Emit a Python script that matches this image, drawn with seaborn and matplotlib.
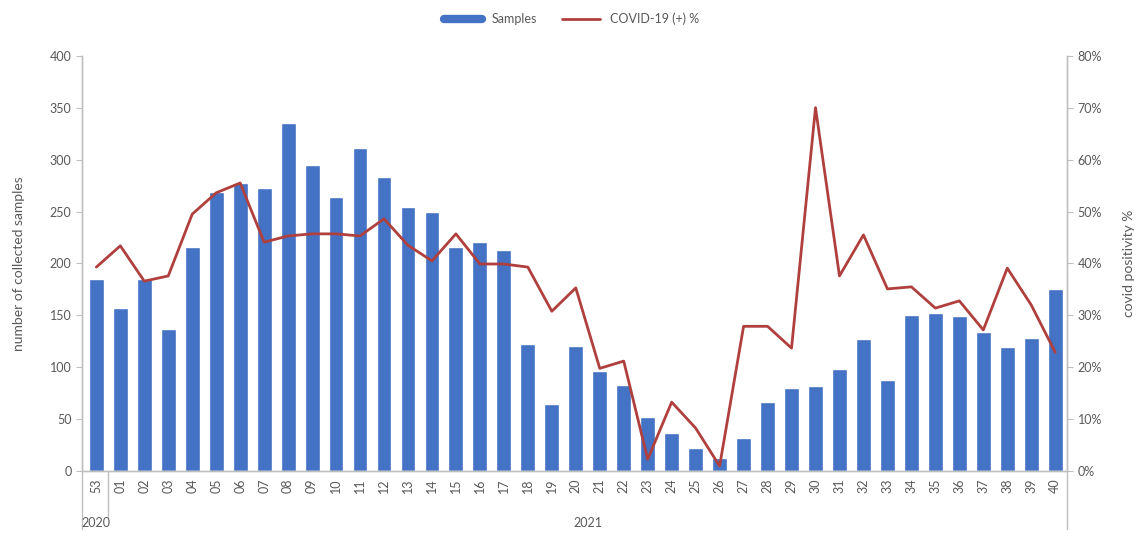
import numpy as np
import pandas as pd
import seaborn as sns
import matplotlib.pyplot as plt
from matplotlib.ticker import PercentFormatter
from matplotlib.transforms import blended_transform_factory

weeks = ["53", "01", "02", "03", "04", "05", "06", "07", "08", "09", "10",
         "11", "12", "13", "14", "15", "16", "17", "18", "19", "20",
         "21", "22", "23", "24", "25", "26", "27", "28", "29", "30",
         "31", "32", "33", "34", "35", "36", "37", "38", "39", "40"]
samples = [185, 157, 185, 137, 216, 269, 277, 273, 335, 295, 264,
           311, 283, 254, 250, 216, 221, 213, 122, 65, 121,
           96, 83, 52, 37, 22, 13, 32, 67, 80, 82,
           98, 127, 88, 150, 152, 149, 134, 120, 128, 175]
positivity = [39.3, 43.4, 36.6, 37.6, 49.5, 53.6, 55.5, 44.1, 45.3, 45.7, 45.7,
              45.3, 48.6, 43.5, 40.5, 45.7, 39.9, 39.9, 39.3, 30.8, 35.3,
              19.8, 21.2, 2.3, 13.3, 8.3, 1.0, 27.9, 27.9, 23.7, 70.0,
              37.6, 45.5, 35.1, 35.5, 31.4, 32.8, 27.2, 39.1, 32.0, 22.9]
years = ["2020", "2021"]

df = pd.DataFrame({"week": weeks, "samples": samples, "pos": positivity})
df["pos_idx"] = np.arange(len(df))

bar_color = "#4472C4"
line_color = "#B0403E"
grey = "#595959"
axis_grey = "#BFBFBF"

sns.set_style("white")
plt.rcParams["font.family"] = ["Lato", "DejaVu Sans"]

fig = plt.figure(figsize=(11.43, 5.41), dpi=100)
ax = fig.add_axes([0.0717, 0.129, 0.862, 0.768])

sns.barplot(data=df, x="week", y="samples", color=bar_color, width=0.62,
            saturation=1, ax=ax, order=weeks)
ax.set_ylim(0, 400)
ax.set_yticks(range(0, 401, 50))
ax.set_xlim(-0.6, 40.5)
ax.set_xlabel("")
ax.set_ylabel("number of collected samples", fontsize=10, color=grey)
ax.yaxis.set_label_coords(-0.058, 0.5)

ax2 = ax.twinx()
sns.lineplot(data=df, x="pos_idx", y="pos", color=line_color, linewidth=2,
             ax=ax2)
ax2.set_ylim(0, 80)
ax2.set_yticks(range(0, 81, 10))
ax2.yaxis.set_major_formatter(PercentFormatter(decimals=0))
ax2.set_xlim(-0.6, 40.5)
ax2.set_xlabel("")
ax2.set_ylabel("covid positivity %", fontsize=10, color=grey, rotation=90)
ax2.yaxis.set_label_coords(1.057, 0.5)

for a in (ax, ax2):
    for s in a.spines.values():
        s.set_color(axis_grey)
        s.set_linewidth(1)
    a.spines["top"].set_visible(False)
    a.tick_params(axis="y", colors=grey, labelsize=9, length=4,
                  color=axis_grey, direction="out")
ax.tick_params(axis="x", labelrotation=90, labelsize=9, colors=grey,
               length=0, pad=5)
for lbl in ax.get_xticklabels():
    lbl.set_color(grey)

# category separators below the axis
ax.set_xticks(np.arange(0.5, 40, 1), minor=True)
ax.tick_params(axis="x", which="minor", length=24, color="#E3CFCF",
               direction="out", width=0.8)

trans = blended_transform_factory(ax.transData, ax.transAxes)
ax.plot([-0.6, -0.6], [0, -0.14], transform=trans, color=axis_grey,
        lw=1, clip_on=False)
ax.plot([40.5, 40.5], [0, -0.14], transform=trans, color=axis_grey,
        lw=1, clip_on=False)
ax.plot([0.5, 0.5], [0, -0.11], transform=trans, color=axis_grey,
        lw=1, clip_on=False)
ax.text(0, -0.125, years[0], transform=trans, ha="center", va="center",
        fontsize=9, color=grey)
ax.text(20.5, -0.125, years[1], transform=trans, ha="center", va="center",
        fontsize=9, color=grey)

handles = [plt.Line2D([], [], color=bar_color, lw=6),
           plt.Line2D([], [], color=line_color, lw=2)]
fig.legend(handles, ["Samples", "COVID-19 (+) %"], loc="center",
           bbox_to_anchor=(0.5, 0.965), ncol=2, frameon=False, fontsize=9,
           handlelength=3, columnspacing=2, labelcolor=grey)

fig.savefig("out.png", dpi=100)
